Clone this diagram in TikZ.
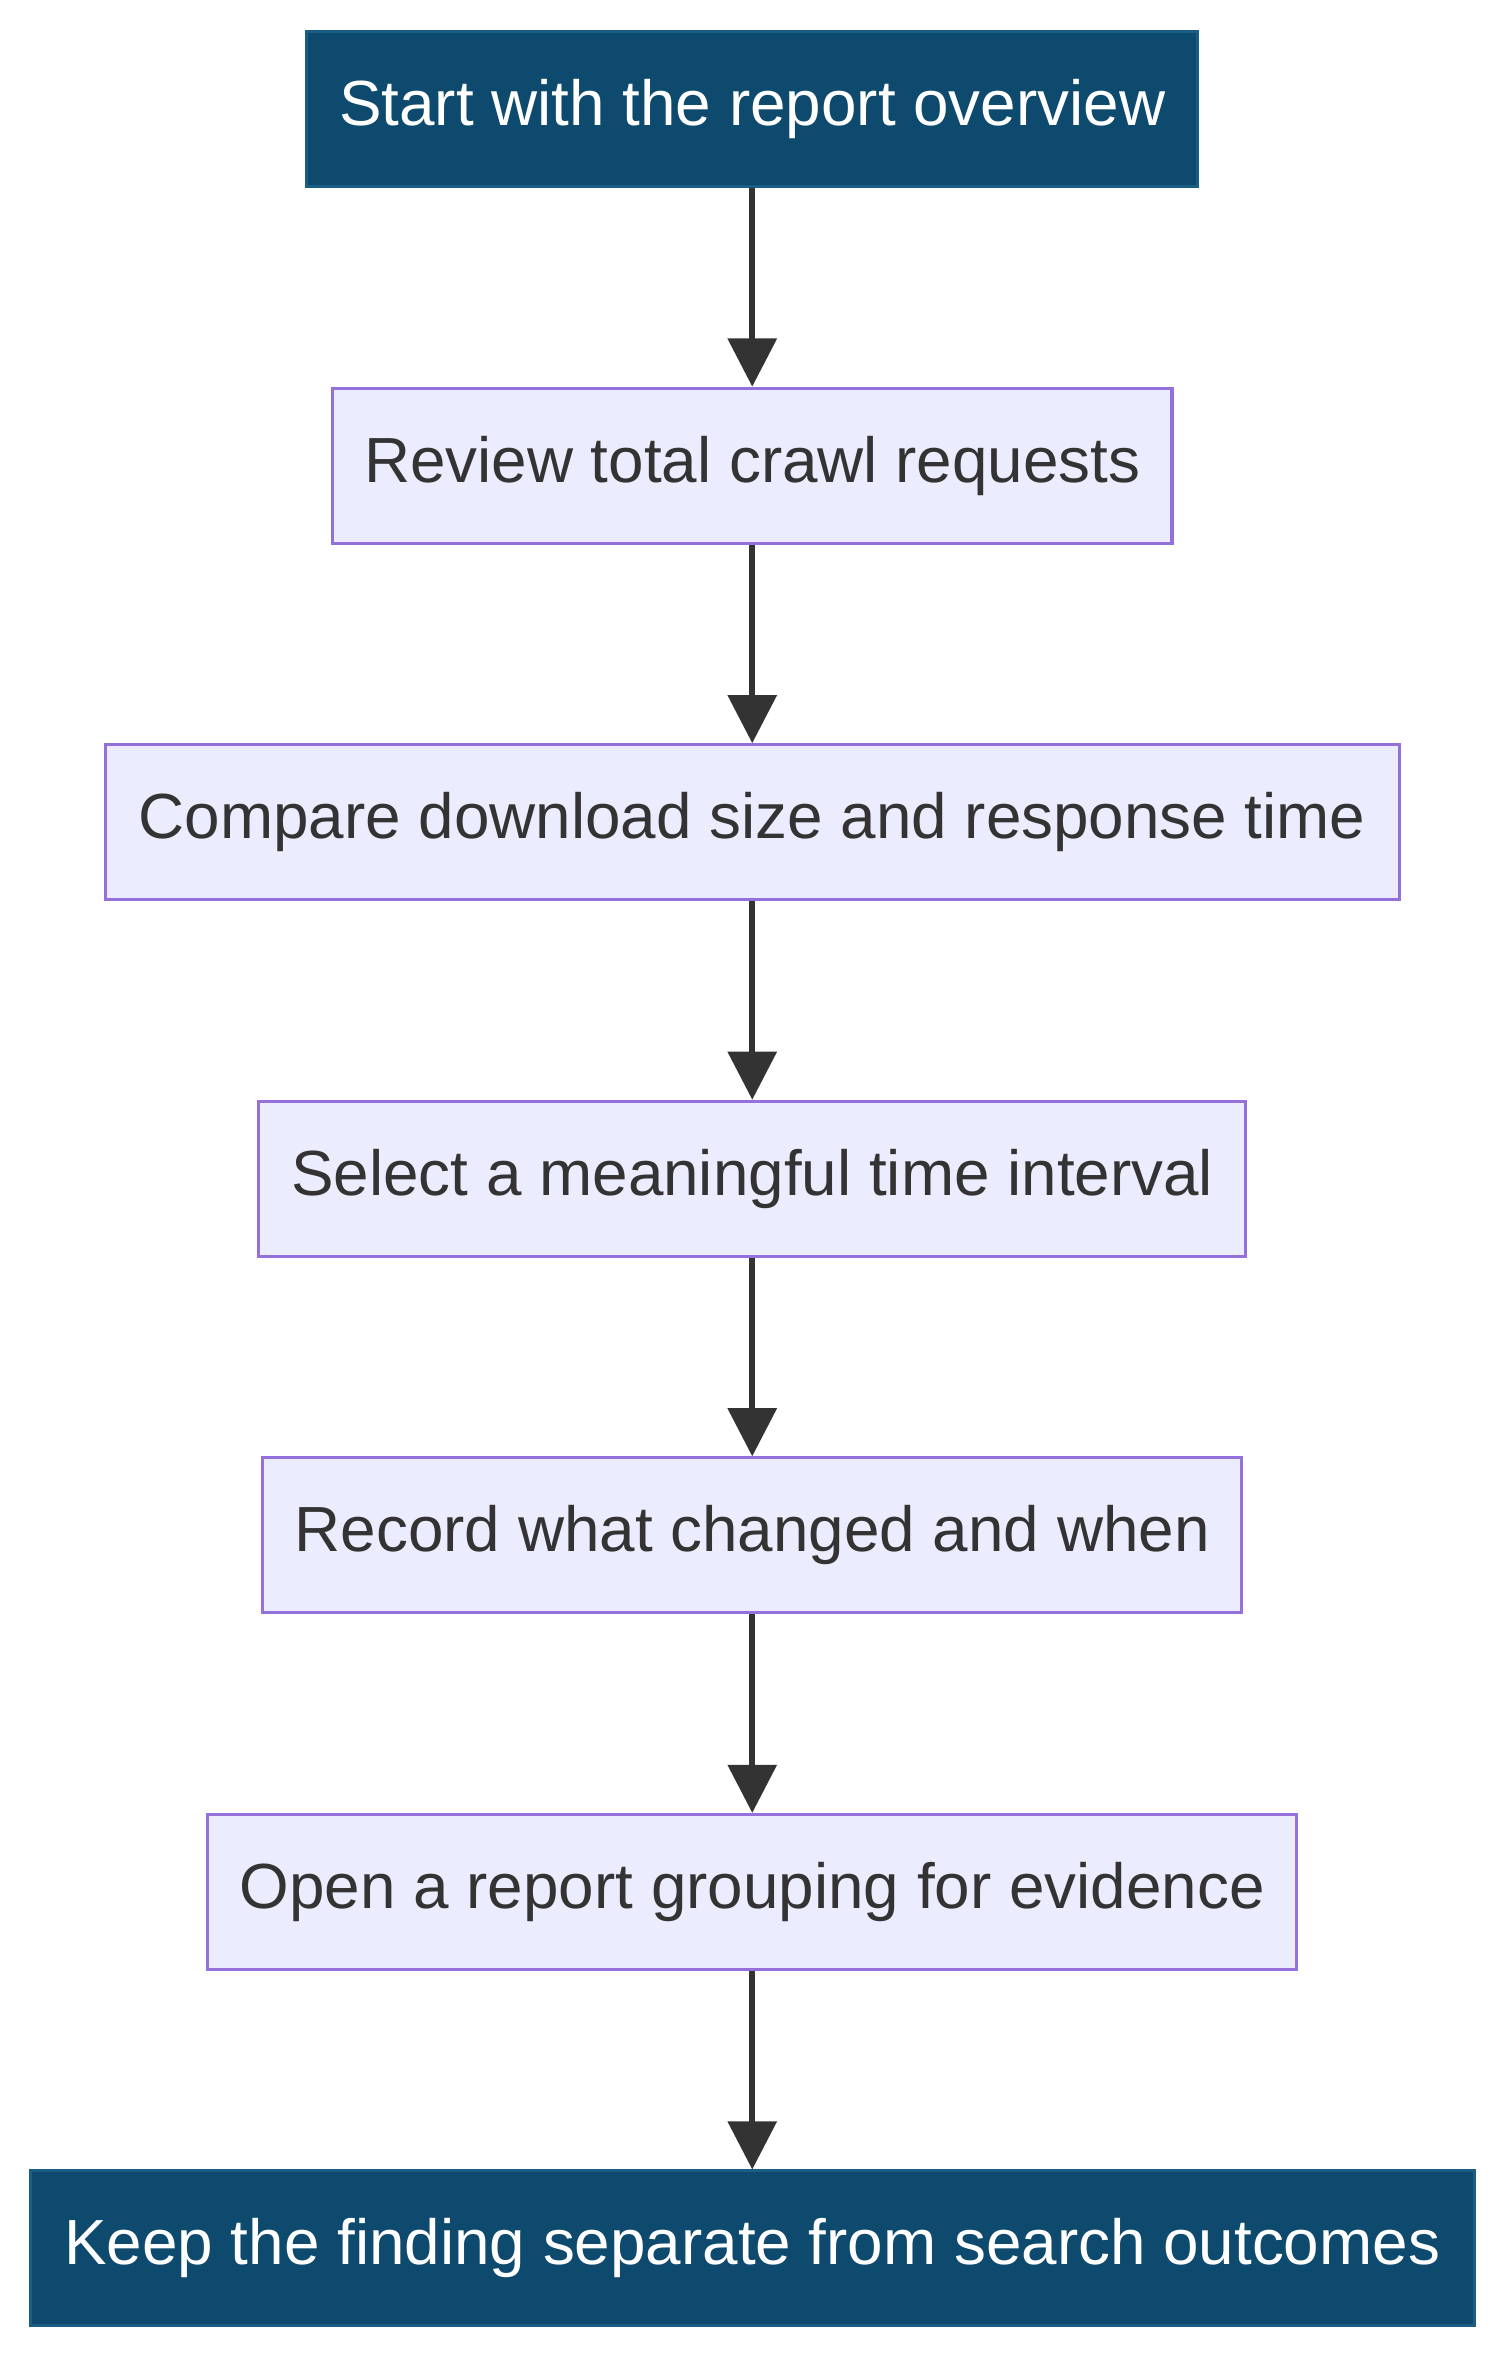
\documentclass[tikz,border=0pt]{standalone}
\usepackage{fontspec}
\setmainfont{Liberation Sans}
\usetikzlibrary{arrows.meta}
\definecolor{darkfill}{HTML}{0E4A6E}
\definecolor{darkline}{HTML}{1B5E85}
\definecolor{lightfill}{HTML}{ECECFF}
\definecolor{lightline}{HTML}{9370DB}
\definecolor{txt}{HTML}{333333}
\tikzset{
  stepbox/.style={draw=lightline,fill=lightfill,line width=1pt,text=txt,
    minimum height=51.5pt,inner sep=0pt,font=\fontsize{21.2}{24}\selectfont},
  endbox/.style={stepbox,draw=darkline,fill=darkfill,text=white},
  flow/.style={draw=txt,line width=2pt,-{Triangle[width=16pt,length=16pt]}}
}
\begin{document}
\begin{tikzpicture}[x=0.5pt,y=-0.5pt]
  \useasboundingbox (0,0) rectangle (1000,1566);
  % boxes, top to bottom
  \node[endbox,minimum width=296pt]   (start)   at (500,72.5)  {Start with the report overview};
  \node[stepbox,minimum width=279pt]  (review)  at (500,309.5) {Review total crawl requests};
  \node[stepbox,minimum width=430pt]  (compare) at (500,546.5) {Compare download size and response time};
  \node[stepbox,minimum width=328pt]  (select)  at (500,783.5) {Select a meaningful time interval};
  \node[stepbox,minimum width=325.5pt](record)  at (500,1020.5){Record what changed and when};
  \node[stepbox,minimum width=362pt]  (open)    at (500,1257.5){Open a report grouping for evidence};
  \node[endbox,minimum width=480pt]   (keep)    at (500,1494.5){Keep the finding separate from search outcomes};
  % connectors
  \foreach \a/\b in {start/review,review/compare,compare/select,select/record,record/open,open/keep}
    \draw[flow] (\a) -- (\b);
\end{tikzpicture}
\end{document}
